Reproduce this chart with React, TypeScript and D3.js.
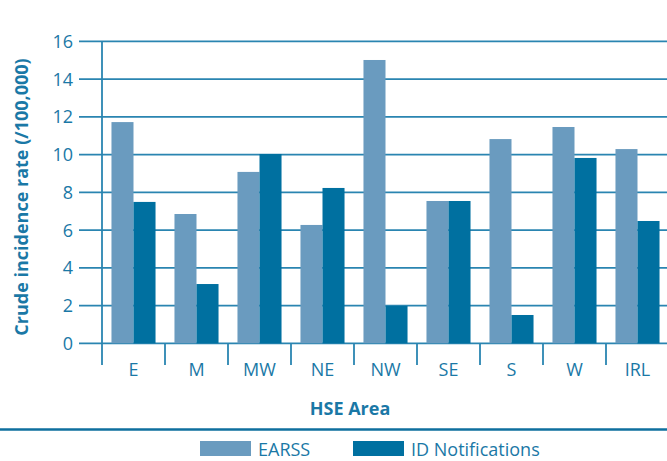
import React, { useEffect, useRef } from "react";
import * as d3 from "d3";

const areas = ["E", "M", "MW", "NE", "NW", "SE", "S", "W", "IRL"];
const earss = [11.72, 6.85, 9.08, 6.27, 15.01, 7.54, 10.82, 11.46, 10.29];
const idNotifications = [7.49, 3.14, 10.03, 8.23, 1.98, 7.54, 1.5, 9.82, 6.48];
const seriesNames = ["EARSS", "ID Notifications"];
const seriesColors = ["#6a9bbf", "#0070a0"];
const yTicks = [0, 2, 4, 6, 8, 10, 12, 14, 16];

const W = 667;
const H = 461;
const TEXT = "#1a78a6";
const LINE = "#2a85b1";
const FONT = "'Open Sans', sans-serif";

const App = () => {
  const svgRef = useRef<SVGSVGElement>(null);

  useEffect(() => {
    const svg = d3.select(svgRef.current);
    svg.selectAll("*").remove();

    const x = d3.scaleBand<string>().domain(areas).range([102, 669]).paddingInner(0);
    const xs = d3
      .scaleBand<string>()
      .domain(seriesNames)
      .range([0, x.bandwidth()])
      .paddingInner(0)
      .paddingOuter(0.43);
    const y = d3.scaleLinear().domain([0, 16]).range([343.3, 41.3]);

    // gridlines + y tick marks
    svg
      .append("g")
      .selectAll("line")
      .data(yTicks)
      .join("line")
      .attr("x1", 79)
      .attr("x2", W)
      .attr("y1", (d) => y(d))
      .attr("y2", (d) => y(d))
      .attr("stroke", LINE)
      .attr("stroke-width", 1.8);

    svg
      .append("g")
      .selectAll("text")
      .data(yTicks)
      .join("text")
      .attr("x", 73)
      .attr("y", (d) => y(d))
      .attr("dy", "0.36em")
      .attr("text-anchor", "end")
      .attr("font-family", FONT)
      .attr("font-size", 18)
      .attr("fill", TEXT)
      .text((d) => d);

    // bars
    const rows = areas.map((a, i) => ({ area: a, values: [earss[i], idNotifications[i]] }));
    const groups = svg
      .append("g")
      .selectAll("g")
      .data(rows)
      .join("g")
      .attr("transform", (d) => `translate(${x(d.area)},0)`);
    groups
      .selectAll("rect")
      .data((d) => d.values.map((v, j) => ({ key: seriesNames[j], v, j })))
      .join("rect")
      .attr("x", (d) => xs(d.key)!)
      .attr("width", xs.bandwidth())
      .attr("y", (d) => y(d.v))
      .attr("height", (d) => y(0) - y(d.v))
      .attr("fill", (d) => seriesColors[d.j]);

    // axes lines
    svg
      .append("line")
      .attr("x1", x.range()[0])
      .attr("x2", x.range()[0])
      .attr("y1", y(16))
      .attr("y2", 365)
      .attr("stroke", LINE)
      .attr("stroke-width", 1.8);
    svg
      .append("g")
      .selectAll("line")
      .data(areas.slice(1))
      .join("line")
      .attr("x1", (d) => x(d)!)
      .attr("x2", (d) => x(d)!)
      .attr("y1", y(0))
      .attr("y2", 365)
      .attr("stroke", LINE)
      .attr("stroke-width", 1.8);

    svg
      .append("g")
      .selectAll("text")
      .data(areas)
      .join("text")
      .attr("x", (d) => x(d)! + x.bandwidth() / 2)
      .attr("y", 375.5)
      .attr("text-anchor", "middle")
      .attr("font-family", FONT)
      .attr("font-size", 18)
      .attr("fill", TEXT)
      .text((d) => d);

    svg
      .append("text")
      .attr("x", 350)
      .attr("y", 414.5)
      .attr("text-anchor", "middle")
      .attr("font-family", FONT)
      .attr("font-weight", "bold")
      .attr("font-size", 18)
      .attr("fill", TEXT)
      .text("HSE Area");

    svg
      .append("text")
      .attr("transform", "translate(28,197) rotate(-90)")
      .attr("text-anchor", "middle")
      .attr("font-family", FONT)
      .attr("font-weight", "bold")
      .attr("font-size", 18)
      .attr("fill", TEXT)
      .text("Crude incidence rate (/100,000)");

    // separator
    svg
      .append("line")
      .attr("x1", 0)
      .attr("x2", W)
      .attr("y1", 429.5)
      .attr("y2", 429.5)
      .attr("stroke", "#0e6f9e")
      .attr("stroke-width", 2.5);

    // legend
    const legendX = [200, 353];
    const leg = svg
      .append("g")
      .selectAll("g")
      .data(seriesNames)
      .join("g")
      .attr("transform", (d, i) => `translate(${legendX[i]},441)`);
    leg
      .append("rect")
      .attr("width", 51)
      .attr("height", 15)
      .attr("fill", (d, i) => seriesColors[i]);
    leg
      .append("text")
      .attr("x", 58)
      .attr("y", 14.5)
      .attr("font-family", FONT)
      .attr("font-size", 18)
      .attr("fill", TEXT)
      .text((d) => d);
  }, []);

  return (
    <svg
      ref={svgRef}
      width={W}
      height={H}
      style={{ position: "absolute", left: 0, top: 0, background: "#fff" }}
    />
  );
};

export default App;
